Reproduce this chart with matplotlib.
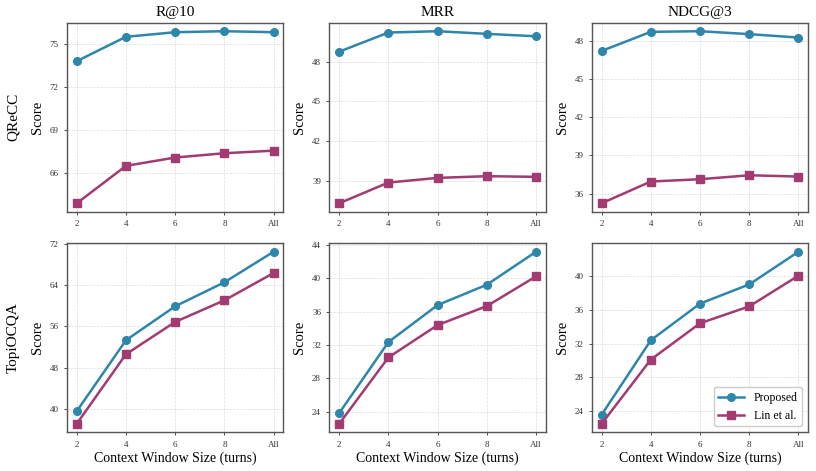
import matplotlib
matplotlib.use("Agg")
import matplotlib.pyplot as plt

plt.rcParams["font.family"] = ["Liberation Serif", "DejaVu Serif"]

windows = ["2", "4", "6", "8", "All"]
datasets = ["QReCC", "TopiOCQA"]
metrics = ["R@10", "MRR", "NDCG@3"]

# proposed method scores, one list per (dataset, metric)
qrecc_proposed = {
    "R@10": [73.77, 75.47, 75.79, 75.86, 75.79],
    "MRR": [48.75, 50.19, 50.29, 50.09, 49.91],
    "NDCG@3": [47.21, 48.71, 48.76, 48.53, 48.26],
}
qrecc_lin = {
    "R@10": [63.86, 66.47, 67.05, 67.35, 67.53],
    "MRR": [37.34, 38.90, 39.25, 39.38, 39.33],
    "NDCG@3": [35.24, 36.95, 37.13, 37.44, 37.34],
}
topi_proposed = {
    "R@10": [39.55, 53.29, 59.87, 64.52, 70.45],
    "MRR": [23.84, 32.36, 36.80, 39.24, 43.20],
    "NDCG@3": [23.57, 32.39, 36.73, 39.00, 42.87],
}
topi_lin = {
    "R@10": [37.10, 50.58, 56.84, 61.03, 66.32],
    "MRR": [22.56, 30.52, 34.40, 36.68, 40.24],
    "NDCG@3": [22.50, 30.10, 34.40, 36.40, 40.04],
}

yticks = {
    ("QReCC", "R@10"): [66, 69, 72, 75],
    ("QReCC", "MRR"): [39, 42, 45, 48],
    ("QReCC", "NDCG@3"): [36, 39, 42, 45, 48],
    ("TopiOCQA", "R@10"): [40, 48, 56, 64, 72],
    ("TopiOCQA", "MRR"): [24, 28, 32, 36, 40, 44],
    ("TopiOCQA", "NDCG@3"): [24, 28, 32, 36, 40],
}

BLUE = "#2E86AB"
MAGENTA = "#A23B72"

fig, axes = plt.subplots(2, 3, figsize=(8.16, 4.71), dpi=100)
fig.subplots_adjust(left=0.082, right=0.9906, top=0.952, bottom=0.082,
                    hspace=0.165, wspace=0.212)

series = {"QReCC": (qrecc_proposed, qrecc_lin), "TopiOCQA": (topi_proposed, topi_lin)}
x = list(range(len(windows)))

for r, ds in enumerate(datasets):
    prop, lin = series[ds]
    for c, m in enumerate(metrics):
        ax = axes[r, c]
        ax.plot(x, prop[m], color=BLUE, marker="o", markersize=5.5, lw=1.8, label="Proposed")
        ax.plot(x, lin[m], color=MAGENTA, marker="s", markersize=5.5, lw=1.8, label="Lin et al.")
        ax.set_xticks(x)
        ax.set_xticklabels(windows)
        ax.set_yticks(yticks[(ds, m)])
        ax.tick_params(labelsize=6.5, length=2.5, width=0.6, colors="#333333")
        ax.grid(True, ls="--", lw=0.5, color="#cccccc", alpha=0.7)
        for s in ax.spines.values():
            s.set_color("#555555")
            s.set_linewidth(1.0)
        ax.set_ylabel("Score", fontsize=10.5)
        if r == 0:
            ax.set_title(m, fontsize=11, pad=5)
        else:
            ax.set_xlabel("Context Window Size (turns)", fontsize=10, labelpad=2)

axes[1, 2].legend(loc="lower right", fontsize=8.5, frameon=True, edgecolor="#cccccc",
                  fancybox=True, framealpha=1, handlelength=2.2)

for r, ds in enumerate(datasets):
    pos = axes[r, 0].get_position()
    fig.text(0.016, (pos.y0 + pos.y1) / 2, ds, rotation=90, fontsize=11,
             ha="center", va="center")

fig.savefig("out.png", dpi=100)
